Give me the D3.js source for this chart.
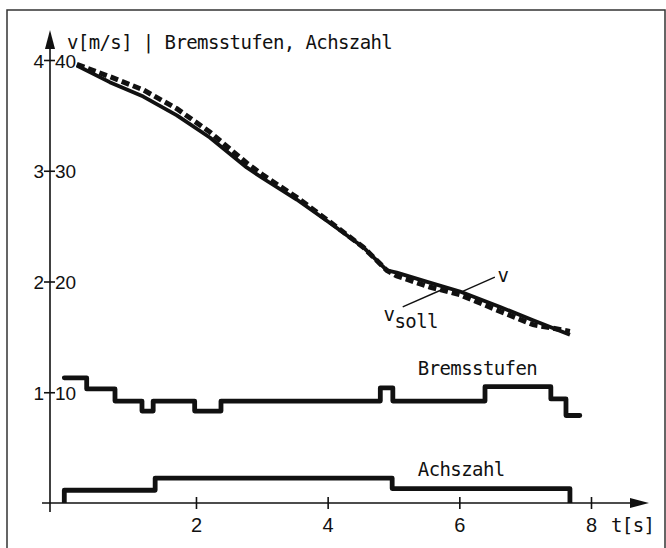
<!DOCTYPE html>
<html>
<head>
<meta charset="utf-8">
<script src="https://cdn.jsdelivr.net/npm/d3@7"></script>
<style>
  body { margin: 0; background: #fff; }
  .mono { font-family: "DejaVu Sans Mono", monospace; font-size: 19px; letter-spacing: -0.6px; fill: #111; }
  .num { font-family: "Liberation Sans Narrow", "Liberation Sans", sans-serif; fill: #111; }
</style>
</head>
<body>
<svg id="chart" width="666" height="548"></svg>
<script>
// t [s] of the sampled velocity points
const tPoints = [0.19, 0.69, 1.20, 1.71, 2.21, 2.77, 3.02, 3.53, 4.03, 4.54, 4.90, 5.05, 5.55, 6.01, 6.62, 7.12, 7.68];
// measured v [m/s]
const vIst = [39.5, 38.0, 36.7, 35.0, 33.0, 30.3, 29.3, 27.4, 25.3, 23.1, 21.0, 20.8, 19.9, 19.1, 17.7, 16.5, 15.2];
// target v_soll [m/s]
const vSoll = [39.6, 38.5, 37.3, 35.6, 33.5, 30.7, 29.6, 27.6, 25.4, 23.1, 21.0, 20.5, 19.5, 18.8, 17.3, 16.1, 15.5];

// Bremsstufen (step changes), scaled x10 on right axis
const bremsT = [0, 0.34, 0.77, 1.18, 1.35, 1.98, 2.38, 4.80, 4.99, 6.39, 7.39, 7.62, 7.83];
const bremsV = [11.3, 10.3, 9.2, 8.3, 9.2, 8.3, 9.2, 10.4, 9.2, 10.5, 9.4, 7.9, 7.9];

// Achszahl (step changes)
const achsT = [0, 0, 1.38, 4.98, 7.68];
const achsV = [0, 1.15, 2.25, 1.3, 0];

const xTicks = [2, 4, 6, 8];
const yTicks = [10, 20, 30, 40];

const svg = d3.select('#chart');
const x = d3.scaleLinear().domain([0, 8]).range([64.3, 591]);
const y = d3.scaleLinear().domain([0, 40]).range([503, 60]);
const x0 = 50; // y axis position

// frame
svg.append('rect')
  .attr('x', 7).attr('y', 10).attr('width', 658).attr('height', 560)
  .attr('fill', 'none').attr('stroke', '#333').attr('stroke-width', 1.5);

// x axis
const xAxis = svg.append('g')
  .attr('transform', `translate(0,${y(0)})`)
  .call(d3.axisBottom(x).tickValues(xTicks).tickSize(6).tickFormat(d3.format('d')));
xAxis.select('.domain').remove();
xAxis.selectAll('.tick line').attr('y1', -6).attr('y2', 6).attr('stroke', '#111').attr('stroke-width', 1.6);
xAxis.selectAll('.tick text')
  .attr('class', 'num').attr('y', 29).attr('dy', 0)
  .style('font-size', '20px');

svg.append('line')
  .attr('x1', 42).attr('x2', 636).attr('y1', y(0)).attr('y2', y(0))
  .attr('stroke', '#111').attr('stroke-width', 1.6);
svg.append('path')
  .attr('d', `M649,${y(0)} L630,${y(0) - 5} L630,${y(0) + 5} Z`)
  .attr('fill', '#111');
svg.append('text').attr('class', 'mono')
  .attr('x', 611).attr('y', 532).text('t[s]');

// y axis
const yAxis = svg.append('g')
  .attr('transform', `translate(${x0},0)`)
  .call(d3.axisLeft(y).tickValues(yTicks).tickSize(6).tickFormat(d => d / 10));
yAxis.select('.domain').remove();
yAxis.selectAll('.tick line').attr('x1', -6).attr('x2', 5).attr('stroke', '#111').attr('stroke-width', 1.6);
yAxis.selectAll('.tick text')
  .attr('class', 'num').attr('x', -6).attr('dy', '0.38em')
  .style('font-size', '19px');
yAxis.selectAll('.tick').append('text')
  .attr('class', 'num').attr('x', 5).attr('dy', '0.38em')
  .attr('text-anchor', 'start')
  .style('font-size', '19px')
  .text(d => d);

svg.append('line')
  .attr('x1', x0).attr('x2', x0).attr('y1', 44).attr('y2', 512)
  .attr('stroke', '#111').attr('stroke-width', 1.6);
svg.append('path')
  .attr('d', `M${x0},30 L${x0 - 5},49 L${x0 + 5},49 Z`)
  .attr('fill', '#111');

svg.append('text').attr('class', 'mono')
  .attr('x', 67).attr('y', 49)
  .text('v[m/s] | Bremsstufen, Achszahl');

// velocity curves
const vLine = d3.line().x((d, i) => x(tPoints[i])).y(d => y(d));

svg.append('path')
  .datum(vSoll)
  .attr('d', vLine)
  .attr('fill', 'none').attr('stroke', '#111')
  .attr('stroke-width', 5).attr('stroke-dasharray', '8,4');

svg.append('path')
  .datum(vIst)
  .attr('d', vLine)
  .attr('fill', 'none').attr('stroke', '#111')
  .attr('stroke-width', 3.8).attr('stroke-linejoin', 'round');

// step lines
const step = d3.line().curve(d3.curveStepAfter).x(d => x(d[0])).y(d => y(d[1]));

svg.append('path')
  .datum(bremsT.map((t, i) => [t, bremsV[i]]))
  .attr('d', step)
  .attr('fill', 'none').attr('stroke', '#111')
  .attr('stroke-width', 4.8).attr('stroke-linejoin', 'round').attr('stroke-linecap', 'round');

svg.append('path')
  .datum(achsT.map((t, i) => [t, achsV[i]]))
  .attr('d', step)
  .attr('fill', 'none').attr('stroke', '#111')
  .attr('stroke-width', 4.8).attr('stroke-linejoin', 'round');

// labels and leader lines
svg.append('line')
  .attr('x1', x(6.05)).attr('y1', y(19.1)).attr('x2', x(6.54)).attr('y2', y(20.4))
  .attr('stroke', '#111').attr('stroke-width', 1.4);
svg.append('text').attr('class', 'mono')
  .attr('x', x(6.58)).attr('y', y(20.0)).text('v');

svg.append('line')
  .attr('x1', x(5.75)).attr('y1', y(19.3)).attr('x2', x(5.14)).attr('y2', y(17.7))
  .attr('stroke', '#111').attr('stroke-width', 1.4);
const vs = svg.append('text').attr('class', 'mono')
  .attr('x', x(4.85)).attr('y', y(16.45));
vs.append('tspan').text('v');
vs.append('tspan').attr('dy', 7).text('soll');

svg.append('text').attr('class', 'mono')
  .attr('x', x(5.37)).attr('y', y(11.6)).text('Bremsstufen');
svg.append('text').attr('class', 'mono')
  .attr('x', x(5.37)).attr('y', y(2.4)).text('Achszahl');
</script>
</body>
</html>
